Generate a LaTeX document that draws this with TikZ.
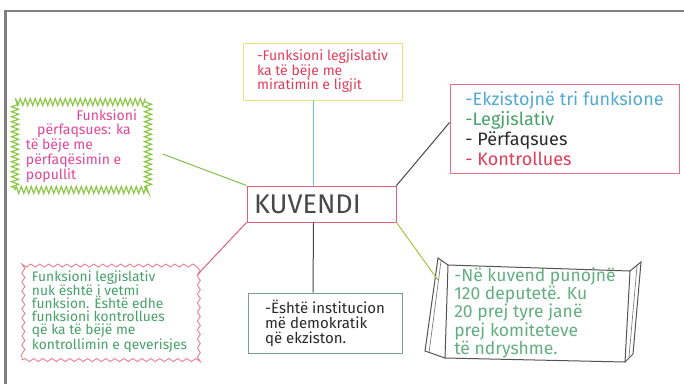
\documentclass[tikz,border=0pt]{standalone}
\usepackage{fontspec}
\setmainfont{Fira Sans}
\usetikzlibrary{decorations.pathmorphing,calc}

\definecolor{frameGray}{RGB}{128,128,128}
\definecolor{inkRed}{RGB}{225,60,90}
\definecolor{inkBlue}{RGB}{80,170,210}
\definecolor{inkGreen}{RGB}{70,160,105}
\definecolor{inkDark}{RGB}{40,40,40}
\definecolor{inkPink}{RGB}{225,70,150}
\definecolor{lineYellow}{RGB}{235,225,120}
\definecolor{lineRose}{RGB}{225,95,120}
\definecolor{lineGreen}{RGB}{140,200,70}
\definecolor{lineSage}{RGB}{120,160,140}
\definecolor{lineSky}{RGB}{110,195,225}
\definecolor{lineOlive}{RGB}{170,195,70}

\begin{document}
\begin{tikzpicture}[x=1pt,y=1pt,yscale=-1,
  box/.style={draw,line width=0.9,align=left,inner sep=4},
  arm/.style={line width=1}]
\useasboundingbox (0,0) rectangle (684,383);

%Frame
\draw [frameGray,line width=2.5] (5.5,384) -- (5.5,11) -- (685,11);

%Centre
\node [box,lineRose,text=inkDark!85,text width=135,inner xsep=7,minimum height=36,
  font=\fontsize{27}{28}\selectfont] (kuvendi) at (321.5,204) {KUVENDI};

%Top box
\node [box,lineYellow,text=inkRed,minimum width=159,minimum height=57,
  font=\fontsize{14}{14.5}\selectfont] (law) at (322.5,71.5)
  {-Funksioni legjislativ\\ ka të bëje me\\ miratimin e ligjit};

%Right box
\node [box,lineRose!90,minimum width=229,minimum height=89,
  font=\fontsize{18}{20}\selectfont] (three) at (564.5,128.5)
  {\textcolor{inkBlue}{-Ekzistojnë tri funksione}\\
   \textcolor{inkGreen}{-Legjislativ}\\
   \textcolor{inkDark}{- Përfaqsues}\\
   \textcolor{inkRed}{- Kontrollues}};

%Left box (zigzag)
\node [box,lineGreen,line width=1.2,text=inkPink,minimum width=133,minimum height=88,
  decorate,decoration={zigzag,segment length=5,amplitude=3.5},
  font=\fontsize{14}{13.5}\selectfont] (repr) at (81.5,146)
  {\hspace*{3.6em}Funksioni\\ \hspace*{0.8em}përfaqsues: ka\\ të bëje me\\ përfaqësimin e\\ popullit};

%Bottom left box (wavy)
\node [box,lineRose!80,text=inkGreen,minimum width=175,minimum height=97,
  decorate,decoration={snake,segment length=9,amplitude=1.5},
  font=\fontsize{13.8}{13}\selectfont] (ctrl) at (109.5,311.5)
  {Funksioni legjislativ\\ nuk është i vetmi\\ funksion. Është edhe\\ funksioni kontrollues\\ që ka të bëjë me\\ kontrollimin e qeverisjes};

%Bottom middle box
\node [box,lineSage,text=inkDark,minimum width=154,minimum height=60,
  font=\fontsize{15}{15}\selectfont] (demo) at (325,323)
  {-Është institucion\\ më demokratik\\ që ekziston.};

%Bottom right banner
\node [align=left,inner sep=0,minimum width=182,minimum height=96,text=inkGreen!85,
  font=\fontsize{17.5}{16}\selectfont] (deputies) at (535,313)
  {-Në kuvend punojnë\\ 120 deputetë. Ku\\ 20 prej tyre janë\\ prej komiteteve\\ të ndryshme.};
\draw [inkDark!80,line width=1] (448,265) -- (630,271) -- (625,362) -- (445,358) -- cycle;
\draw [inkDark!80,line width=1] (448,265) -- (438,258) -- (425,351) -- (445,358);
\draw [inkDark!60,line width=0.7] (441,261) -- (429,353);
\draw [inkDark!80,line width=1] (630,271) -- (641,262) -- (633,354) -- (625,362);
\draw [inkDark!60,line width=0.7] (637,266) -- (629,357);

%Connectors
\draw [arm,lineSky] ($(law.south)+(-9,0)$) -- ($(kuvendi.north)+(-8,0)$);
\draw [arm,inkDark!85] (kuvendi.north east) -- ($(three.west)+(0,-6)$);
\draw [arm,lineGreen!85!inkGreen] ($(repr.east)+(14,8)$) -- (kuvendi.north west);
\draw [arm,lineRose] (kuvendi.south west) -- ($(ctrl.north east)+(0,12)$);
\draw [arm,inkDark!85] ($(kuvendi.south)+(-8,0)$) -- ($(demo.north)+(-12,0)$);
\draw [arm,lineOlive] (kuvendi.south east) -- ($(deputies.north west)+(-6,15)$);
\end{tikzpicture}
\end{document}
